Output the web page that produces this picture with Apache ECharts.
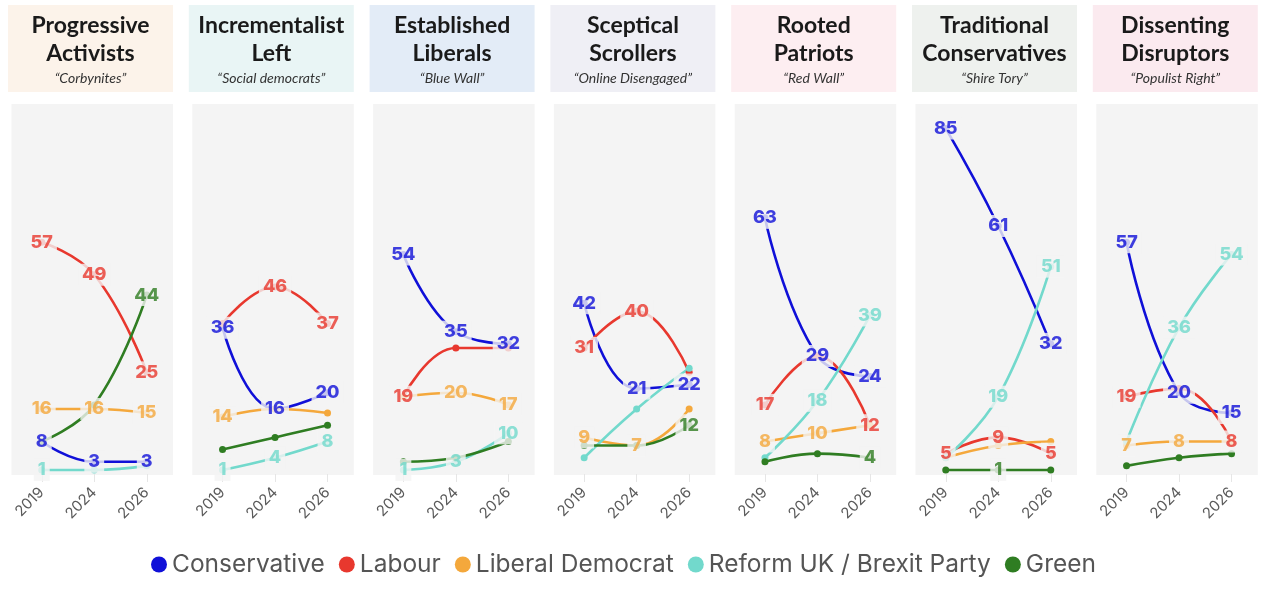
<!DOCTYPE html>
<html><head><meta charset="utf-8">
<script src="https://cdn.jsdelivr.net/npm/echarts@6/dist/echarts.min.js"></script>
<style>html,body{margin:0;padding:0;background:#fff}#c{width:1279px;height:600px}</style>
</head><body><div id="c"></div>
<script>
// ---- data ----
const years = ['2019', '2024', '2026'];
const segTitles = ['Progressive\nActivists', 'Incrementalist\nLeft', 'Established\nLiberals', 'Sceptical\nScrollers', 'Rooted\nPatriots', 'Traditional\nConservatives', 'Dissenting\nDisruptors'];
const segNicknames = ['“Corbynites”', '“Social democrats”', '“Blue Wall”', '“Online Disengaged”', '“Red Wall”', '“Shire Tory”', '“Populist Right”'];
const parties = ['Conservative', 'Labour', 'Liberal Democrat', 'Reform UK / Brexit Party', 'Green'];
// values per segment: [2019, 2024, 2026]
const conservative = [[8,3,3],[36,16,20],[54,35,32],[42,21,22],[63,29,24],[85,61,32],[57,20,15]];
const labour       = [[57,49,25],[37,46,37],[19,31,31],[31,40,25],[17,29,12],[5,9,5],[19,21,8]];
const libDem       = [[16,16,15],[14,16,15],[19,20,17],[9,7,16],[8,10,12],[4,7,8],[7,8,8]];
const reform       = [[1,1,2],[1,4,8],[1,3,10],[4,16,26],[4,18,39],[4,19,51],[8,36,54]];
const green        = [[8,17,44],[6,9,12],[3,4,8],[7,7,12],[3,5,4],[1,1,1],[2,4,5]];
// which values carry a printed label (1) in the original
const conservativeLabelled = [[1,1,1],[1,1,1],[1,1,1],[1,1,1],[1,1,1],[1,1,1],[1,1,1]];
const labourLabelled       = [[1,1,1],[0,1,1],[1,0,0],[1,1,0],[1,0,1],[1,1,1],[1,0,1]];
const libDemLabelled       = [[1,1,1],[1,0,0],[0,1,1],[1,1,0],[1,1,0],[0,0,0],[1,1,0]];
const reformLabelled       = [[1,0,0],[1,1,1],[1,1,1],[0,0,0],[0,1,1],[0,1,1],[0,1,1]];
const greenLabelled        = [[0,0,1],[0,0,0],[0,0,0],[0,0,1],[0,0,1],[0,1,0],[0,0,0]];

// ---- styles ----
const partyValues = [conservative, labour, libDem, reform, green];
const partyLabels = [conservativeLabelled, labourLabelled, libDemLabelled, reformLabelled, greenLabelled];
const partyColors = ['#1010d8', '#e8382e', '#f4a83c', '#72d9cc', '#2f7d22'];
const headerColors = ['#fcf3ea', '#e9f5f5', '#e3ecf7', '#efeff5', '#fdeef1', '#eef1ee', '#fbeaef'];
const plotBg = '#f4f4f4';
const HFONT = 'Lato, "Open Sans", sans-serif';
const FONT = 'Inter, Roboto, sans-serif';
const step = 180.8;

const chart = echarts.init(document.getElementById('c'), null, {renderer: 'canvas'});
const grid = [], xAxis = [], yAxis = [], series = [], graphic = [];
segTitles.forEach((t, i) => {
  const px = 11.5 + step * i;
  grid.push({left: px + 4, width: 157.5, top: 104, bottom: 126});
  graphic.push({type: 'rect', left: px, top: 104, z: -1, shape: {width: 161.5, height: 371}, style: {fill: plotBg}, silent: true});
  xAxis.push({type: 'category', gridIndex: i, data: years, boundaryGap: true,
    axisLine: {show: false}, axisTick: {show: true, alignWithLabel: true, length: 8, lineStyle: {color: '#e6e6e6'}},
    axisLabel: {rotate: 45, color: '#5a5a5a', fontSize: 15, margin: 16, fontFamily: FONT}, splitLine: {show: false}});
  yAxis.push({type: 'value', gridIndex: i, min: 0, max: 91, show: false, splitLine: {show: false}});
  const hx = 8 + step * i;
  graphic.push({type: 'rect', left: hx, top: 5, shape: {width: 165, height: 87}, style: {fill: headerColors[i]}, silent: true});
  graphic.push({type: 'text', x: hx + 82.5, y: 12, style: {text: t, fill: '#1a1a1a', font: 'bold 23px ' + HFONT, textAlign: 'center', lineHeight: 28}, silent: true});
  graphic.push({type: 'text', x: hx + 82.5, y: 71, style: {text: segNicknames[i], fill: '#333', font: 'italic 14px ' + HFONT, textAlign: 'center'}, silent: true});
  parties.forEach((p, k) => {
    series.push({type: 'line', name: p, xAxisIndex: i, yAxisIndex: i, data: partyValues[k][i],
      smooth: 0.45, symbol: 'circle', symbolSize: 7, showSymbol: true,
      lineStyle: {width: 2.6, color: partyColors[k]}, itemStyle: {color: partyColors[k]}, z: 2, silent: true});
  });
  parties.forEach((p, k) => {
    series.push({type: 'scatter', name: p + ' label', xAxisIndex: i, yAxisIndex: i,
      data: partyValues[k][i].map((v, j) => partyLabels[k][i][j] ? v : '-'),
      symbolSize: 1, itemStyle: {color: 'rgba(0,0,0,0)'}, zlevel: 1, z: 5, silent: true,
      label: {show: true, position: 'inside', formatter: (q) => q.value, color: partyColors[k], fontSize: 18, fontWeight: 800, fontFamily: FONT,
        backgroundColor: plotBg, padding: [2, 4]}});
  });
});

chart.setOption({
  animation: false,
  grid, xAxis, yAxis, series, graphic,
  legend: {data: parties, top: 547, left: 146, icon: 'circle', itemWidth: 16, itemHeight: 16, itemGap: 14,
    textStyle: {fontSize: 24.5, color: '#555', fontFamily: FONT}},
});
</script></body></html>
